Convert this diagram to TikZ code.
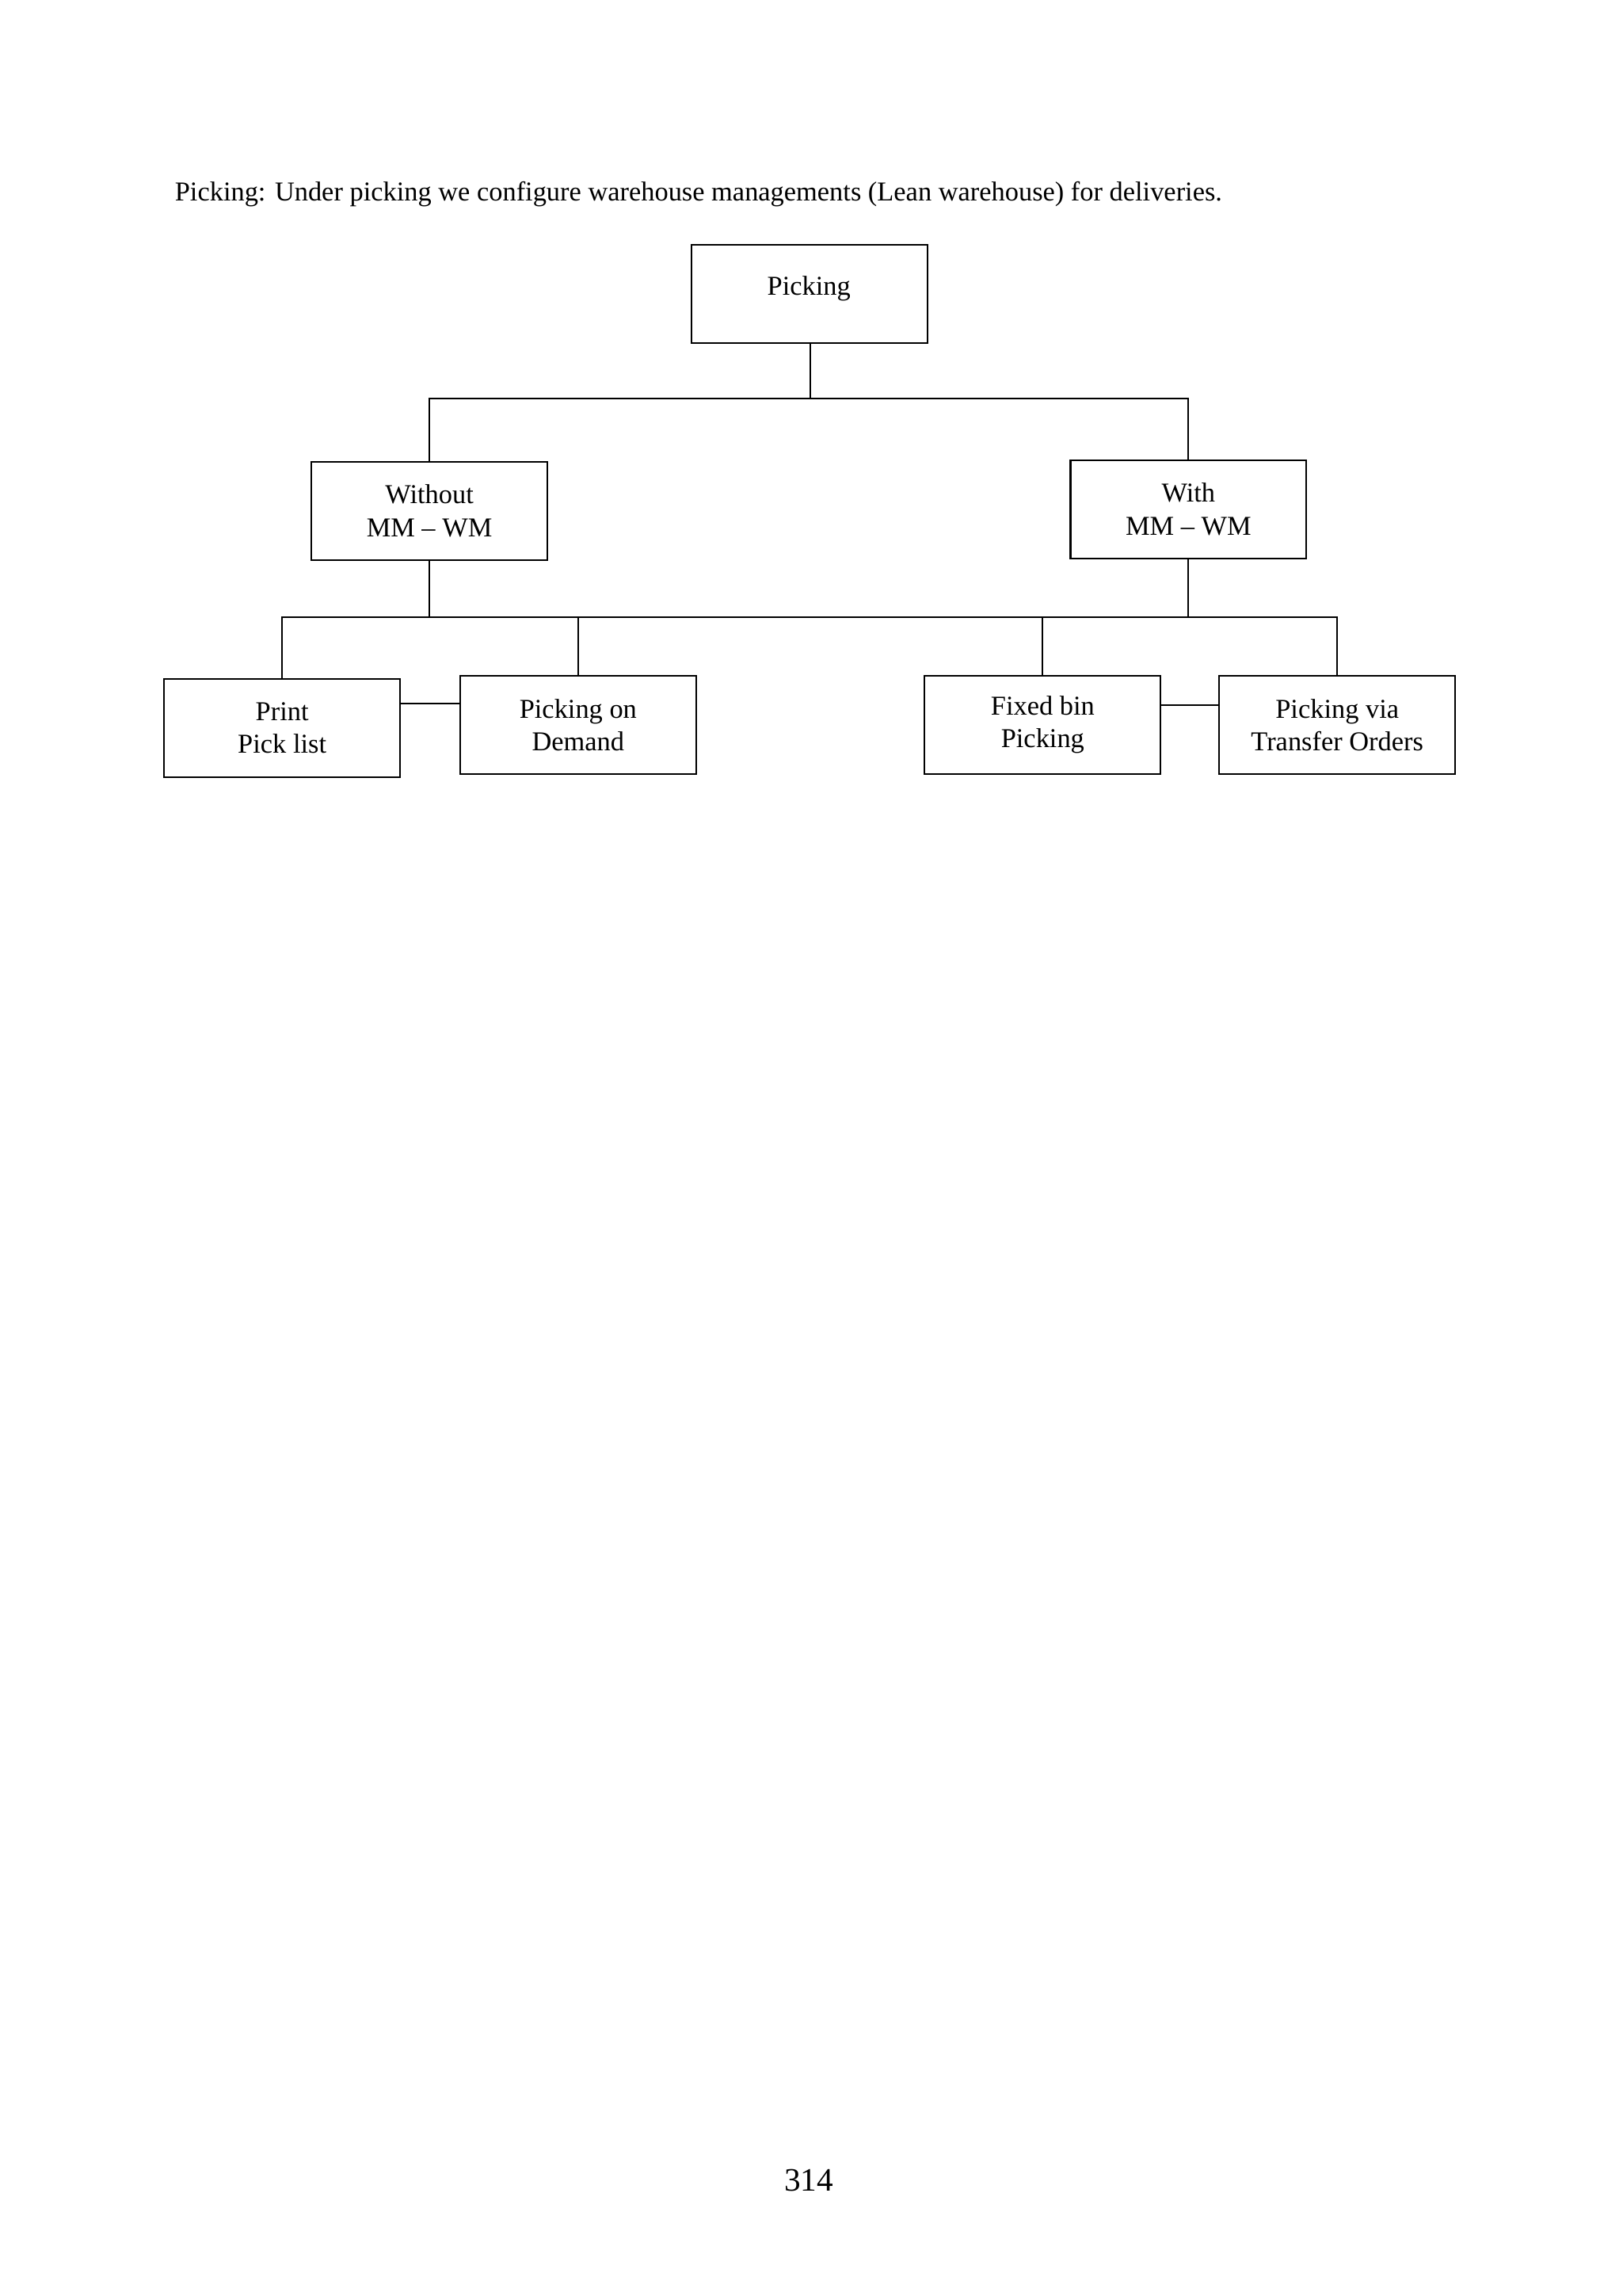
\documentclass[tikz,border=0pt]{standalone}
\usepackage{fontspec}
\setmainfont{Liberation Serif}
\begin{document}
\begin{tikzpicture}[x=0.5378pt,y=-0.5378pt,
  bx/.style={draw,line width=0.6pt,minimum width=161*0.5378pt,minimum height=67*0.5378pt,align=center,font=\fontsize{10}{12}\selectfont,inner sep=0pt},
  ln/.style={line width=0.6pt}]
\useasboundingbox (0,0) rectangle (1107,1566.4);
\node[anchor=base west,font=\fontsize{10}{12}\selectfont,inner sep=0pt] (t) at (119,137) {Picking: Under picking we configure warehouse managements (Lean warehouse) for deliveries.};
\node[bx] (p) at (552.5,200.5) {};
\node[font=\fontsize{10}{12}\selectfont,inner sep=0pt] (pl) at (552,197) {Picking};
\node[bx] (wo) at (293,348.5) {Without\\MM -- WM};
\node[bx] (w) at (811,347.5) {With\\MM -- WM};
\node[bx] (pr) at (192.5,496.5) {Print\\Pick list};
\node[bx] (pd) at (394.5,494.5) {Picking on\\Demand};
\node[bx] (fb) at (711.5,494.5) {Fixed bin\\Picking};
\node[bx] (tr) at (912.5,494.5) {Picking via\\Transfer Orders};
\coordinate (h1) at (553,272);
\coordinate (h2) at (553,421);
\draw[ln] (p.south -| h1) -- (h1);
\draw[ln] (wo.north) |- (h1) -| (w.north);
\draw[ln] (wo.south) -- (wo.south |- h2);
\draw[ln] (w.south) -- (w.south |- h2);
\draw[ln] (pr.north) |- (h2) -| (tr.north);
\draw[ln] (pd.north) -- (pd.north |- h2);
\draw[ln] (fb.north) -- (fb.north |- h2);
\draw[ln] (pr.east |- 0,480) -- (pd.west |- 0,480);
\draw[ln] (fb.east |- 0,481) -- (tr.west |- 0,481);
\node[font=\fontsize{12}{14}\selectfont,anchor=base] (pg) at (552,1495) {314};
\end{tikzpicture}
\end{document}
